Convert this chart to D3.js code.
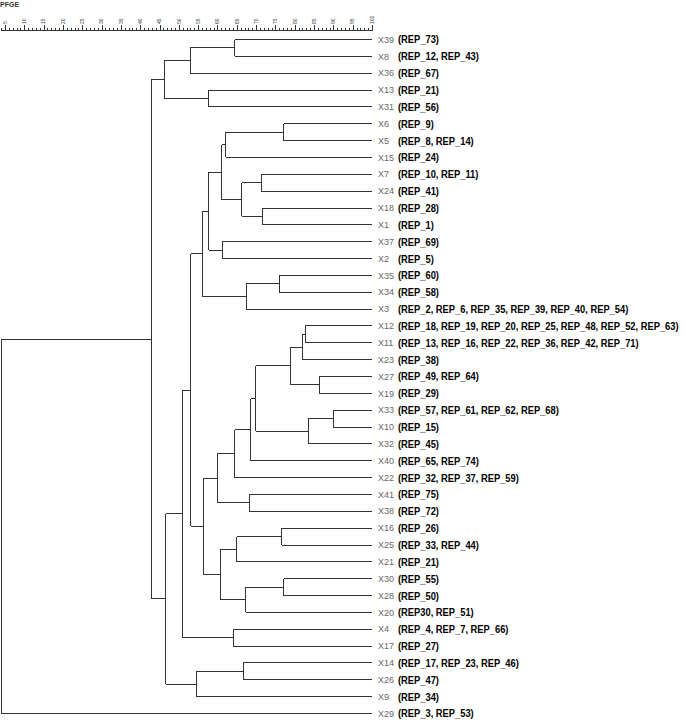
<!DOCTYPE html>
<html><head><meta charset="utf-8">
<script src="https://cdn.jsdelivr.net/npm/d3@7"></script>
<style>body{margin:0;background:#fff}</style>
</head><body>
<svg id="chart" width="685" height="720"></svg>
<script>
// Leaf order (top to bottom)
const leaves = ["X39","X8","X36","X13","X31","X6","X5","X15","X7","X24","X18","X1","X37","X2","X35","X34","X3","X12","X11","X23","X27","X19","X33","X10","X32","X40","X22","X41","X38","X16","X25","X21","X30","X28","X20","X4","X17","X14","X26","X9","X29"];
const repLabels = ["(REP_73)","(REP_12, REP_43)","(REP_67)","(REP_21)","(REP_56)","(REP_9)","(REP_8, REP_14)","(REP_24)","(REP_10, REP_11)","(REP_41)","(REP_28)","(REP_1)","(REP_69)","(REP_5)","(REP_60)","(REP_58)","(REP_2, REP_6, REP_35, REP_39, REP_40, REP_54)","(REP_18, REP_19, REP_20, REP_25, REP_48, REP_52, REP_63)","(REP_13, REP_16, REP_22, REP_36, REP_42, REP_71)","(REP_38)","(REP_49, REP_64)","(REP_29)","(REP_57, REP_61, REP_62, REP_68)","(REP_15)","(REP_45)","(REP_65, REP_74)","(REP_32, REP_37, REP_59)","(REP_75)","(REP_72)","(REP_26)","(REP_33, REP_44)","(REP_21)","(REP_55)","(REP_50)","(REP30, REP_51)","(REP_4, REP_7, REP_66)","(REP_27)","(REP_17, REP_23, REP_46)","(REP_47)","(REP_34)","(REP_3, REP_53)"];
// Merges: [childA, childB, similarity %]; "mN" = N-th merge
const merges = [
  ["X39","X8",64.5],   // m0
  ["m0","X36",53.0],   // m1
  ["X13","X31",57.6],  // m2
  ["m1","m2",46.2],    // m3
  ["X6","X5",77.2],    // m4
  ["m4","X15",62.1],   // m5
  ["X7","X24",71.3],   // m6
  ["X18","X1",71.7],   // m7
  ["m6","m7",66.3],    // m8
  ["m5","m8",61.1],    // m9
  ["X37","X2",61.3],   // m10
  ["m9","m10",57.8],   // m11
  ["X35","X34",76.0],  // m12
  ["m12","X3",67.4],   // m13
  ["m11","m13",56.1],  // m14
  ["X12","X11",82.7],  // m15
  ["m15","X23",82.1],  // m16
  ["X27","X19",86.4],  // m17
  ["m16","m17",78.8],  // m18
  ["X33","X10",90.0],  // m19
  ["m19","X32",83.5],  // m20
  ["m18","m20",69.9],  // m21
  ["m21","X40",68.6],  // m22
  ["m22","X22",64.5],  // m23
  ["X41","X38",68.2],  // m24
  ["m23","m24",60.0],  // m25
  ["X16","X25",76.6],  // m26
  ["m26","X21",65.0],  // m27
  ["X30","X28",77.2],  // m28
  ["m28","X20",67.3],  // m29
  ["m27","m29",60.9],  // m30
  ["m25","m30",56.3],  // m31
  ["m14","m31",53.1],  // m32
  ["X4","X17",64.1],   // m33
  ["m32","m33",50.9],  // m34
  ["X14","X26",66.7],  // m35
  ["m35","X9",54.6],   // m36
  ["m34","m36",46.6],  // m37
  ["m3","m37",42.8],   // m38
  ["m38","X29",4.0]    // m39
];
const majorTicks = d3.range(5, 101, 5);
const minorTicks = d3.range(4, 101, 1);
const axisTitle = "PFGE";

const svg = d3.select("#chart");
const x = d3.scaleLinear().domain([5, 100]).range([5, 372]);
const y = d3.scalePoint().domain(leaves).range([39.5, 713.5]);

// Build hierarchy
const nodes = {};
leaves.forEach((n, i) => nodes[n] = {name: n, sim: 100, rep: repLabels[i]});
merges.forEach((m, i) => nodes["m" + i] = {name: "m" + i, sim: m[2], children: [nodes[m[0]], nodes[m[1]]]});
const root = d3.hierarchy(nodes["m" + (merges.length - 1)]);
root.eachAfter(d => {
  d.py = d.children ? d3.mean(d.children, c => c.py) : y(d.data.name);
  d.px = x(d.data.sim);
});

const g = svg.append("g").attr("stroke", "#333").attr("stroke-width", 1).attr("fill", "none")
  .attr("shape-rendering", "crispEdges");
root.descendants().filter(d => d.children).forEach(d => {
  const ys = d.children.map(c => c.py);
  g.append("line").attr("x1", d.px).attr("x2", d.px).attr("y1", d3.min(ys)).attr("y2", d3.max(ys));
  d.children.forEach(c => {
    g.append("line").attr("x1", d.px).attr("x2", c.px).attr("y1", c.py).attr("y2", c.py);
  });
});

// Labels
const lab = svg.append("g");
root.leaves().forEach(d => {
  lab.append("text").attr("x", 378).attr("y", d.py).attr("dy", "0.35em")
    .attr("font-family", "Liberation Sans, Arial, sans-serif").attr("font-size", 9)
    .attr("fill", "#666").text(d.data.name);
  lab.append("text").attr("transform", `translate(398,${d.py}) scale(0.85,1)`).attr("dy", "0.36em")
    .attr("font-family", "Liberation Sans, Arial, sans-serif")
    .attr("font-weight", "bold").attr("font-size", 11).attr("fill", "#000").text(d.data.rep);
});

// Top scale
const ax = svg.append("g").attr("stroke", "#333").attr("shape-rendering", "crispEdges");
ax.append("line").attr("x1", x(4)).attr("x2", x(100)).attr("y1", 30.5).attr("y2", 30.5);
minorTicks.forEach(v => {
  const major = v % 5 === 0;
  ax.append("line").attr("x1", Math.round(x(v)) + 0.5).attr("x2", Math.round(x(v)) + 0.5)
    .attr("y1", 30.5).attr("y2", major ? 25 : 28);
});
majorTicks.forEach(v => {
  svg.append("text").attr("transform", `translate(${x(v) + 1.8},24) rotate(-90)`)
    .attr("font-family", "Liberation Sans, Arial, sans-serif").attr("font-size", 5)
    .attr("fill", "#333").text(v);
});
svg.append("text").attr("x", 0).attr("y", 7).attr("font-family", "Liberation Sans, Arial, sans-serif")
  .attr("font-size", 7).attr("font-weight", "bold").attr("fill", "#333").text(axisTitle);
</script>
</body></html>
